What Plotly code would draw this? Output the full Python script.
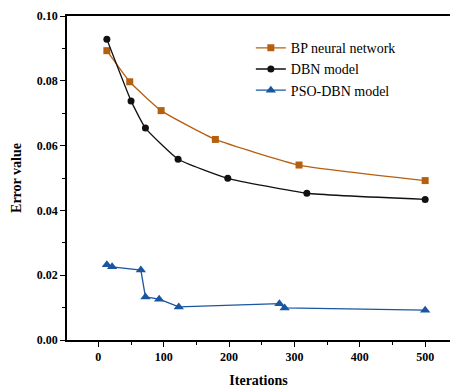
import plotly.graph_objects as go

bp_x = [13, 48, 96, 179, 307, 500]
bp_y = [0.0893, 0.0797, 0.0708, 0.0619, 0.0540, 0.0492]
dbn_x = [13, 50, 72, 122, 198, 319, 500]
dbn_y = [0.0928, 0.0738, 0.0654, 0.0558, 0.0499, 0.0453, 0.0434]
pso_x = [13, 21, 65, 72, 93, 123, 277, 285, 500]
pso_y = [0.0232, 0.0226, 0.0216, 0.0133, 0.0126, 0.0102, 0.0112, 0.0099, 0.0092]
x_ticks = [0, 100, 200, 300, 400, 500]
y_ticks = [0.00, 0.02, 0.04, 0.06, 0.08, 0.10]

font = "Liberation Serif"


def serif(t, bold=False):
    s = '<span style="font-family:Liberation Serif">' + t + '</span>'
    return "<b>" + s + "</b>" if bold else s


fig = go.Figure()
fig.add_trace(go.Scatter(x=bp_x, y=bp_y, mode="lines+markers", name=serif("BP neural network"),
                         line=dict(color="#B5600F", width=1.3, shape="spline", smoothing=0.4),
                         marker=dict(symbol="square", size=7, color="#B5600F")))
fig.add_trace(go.Scatter(x=dbn_x, y=dbn_y, mode="lines+markers", name=serif("DBN model"),
                         line=dict(color="#111111", width=1.3, shape="spline", smoothing=0.4),
                         marker=dict(symbol="circle", size=7, color="#111111")))
fig.add_trace(go.Scatter(x=pso_x, y=pso_y, mode="lines+markers", name=serif("PSO-DBN model"),
                         line=dict(color="#1A55A0", width=1.3),
                         marker=dict(symbol="triangle-up", size=9, color="#1A55A0")))

fig.update_layout(
    width=450, height=392,
    margin=dict(l=67, r=0, t=16, b=52),
    plot_bgcolor="white", paper_bgcolor="white",
    font=dict(family=font, color="black"),
    legend=dict(x=0.48, y=0.95, xanchor="left", yanchor="top",
                font=dict(family=font, size=14, color="black"),
                bgcolor="rgba(0,0,0,0)", tracegroupgap=0, itemwidth=30),
    xaxis=dict(range=[-48, 538], tickvals=x_ticks,
               ticktext=[serif(str(v), True) for v in x_ticks],
               showline=True, linecolor="black", linewidth=1.5, mirror=True,
               ticks="outside", ticklen=5, tickcolor="black", showgrid=False, zeroline=False,
               minor=dict(dtick=50, tick0=0, ticks="outside", ticklen=3, tickcolor="black"),
               tickfont=dict(family=font, size=12, color="black"),
               title=dict(text=serif("Iterations", True), font=dict(family=font, size=14, color="black"), standoff=12)),
    yaxis=dict(range=[0, 0.10], tickvals=y_ticks,
               ticktext=[serif(f"{v:.2f}", True) for v in y_ticks],
               showline=True, linecolor="black", linewidth=1.5,
               ticks="outside", ticklen=5, tickcolor="black", showgrid=False, zeroline=False,
               minor=dict(dtick=0.01, tick0=0, ticks="outside", ticklen=3, tickcolor="black"),
               tickfont=dict(family=font, size=12, color="black"),
               title=dict(text=serif("Error value", True), font=dict(family=font, size=14, color="black"), standoff=12)),
)
fig.write_html("out.html", config={"displayModeBar": False},
               post_script="document.body.style.margin='0';document.body.style.overflow='hidden';")
